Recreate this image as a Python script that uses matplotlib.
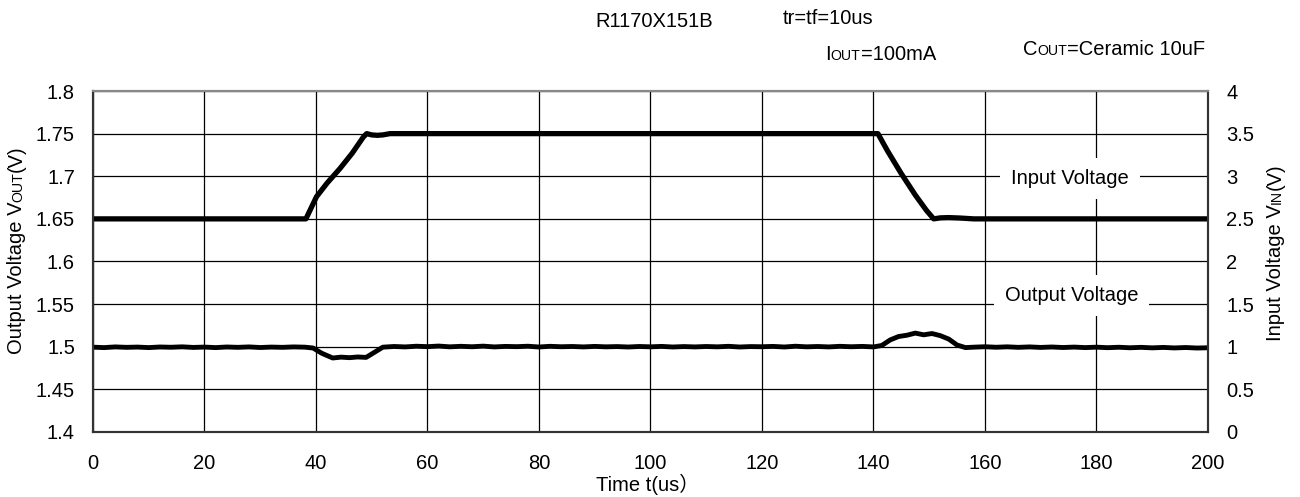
import matplotlib
matplotlib.use("Agg")
import matplotlib.pyplot as plt
from matplotlib.transforms import IdentityTransform

plt.rcParams['font.family'] = ['Liberation Sans', 'Noto Sans CJK JP', 'DejaVu Sans']

# input voltage VIN (right axis), time in us
t_in = [0, 10, 20, 30, 38.2, 40.1, 42, 44.3, 46.5, 48.5, 49.1, 50, 51, 52, 53.3,
        70, 90, 110, 130, 140.8, 142.5, 145, 147.5, 149.5, 150.8, 152, 153.5, 155.5,
        158, 170, 185, 200]
v_in = [2.5, 2.5, 2.5, 2.5, 2.5, 2.76, 2.92, 3.09, 3.27, 3.46, 3.5, 3.485, 3.48, 3.485, 3.5,
        3.5, 3.5, 3.5, 3.5, 3.5, 3.3, 3.03, 2.78, 2.6, 2.5, 2.512, 2.515, 2.51,
        2.5, 2.5, 2.5, 2.5]

# output voltage VOUT (left axis)
t_out = [0, 2, 4, 6, 8, 10, 12, 14, 16, 18, 20, 22, 24, 26, 28, 30, 32, 34, 36, 38,
         39.5, 41, 43, 44.5, 46, 47.5, 49, 50.5, 52, 54, 56, 58, 60, 62, 64, 66, 68, 70,
         72, 74, 76, 78, 80, 82, 84, 86, 88, 90, 92, 94, 96, 98, 100, 102, 104, 106, 108,
         110, 112, 114, 116, 118, 120, 122, 124, 126, 128, 130, 132, 134, 136, 138, 140,
         141.5, 143, 144.5, 146, 147.5, 149, 150.5, 152, 153.5, 155, 156.5, 158, 160,
         162, 164, 166, 168, 170, 172, 174, 176, 178, 180, 182, 184, 186, 188, 190, 192,
         194, 196, 198, 200]
v_out = [1.4995, 1.4990, 1.4998, 1.4993, 1.4996, 1.4990, 1.4997, 1.4994, 1.4999, 1.4992,
         1.4996, 1.4990, 1.4997, 1.4993, 1.4998, 1.4991, 1.4996, 1.4993, 1.4998, 1.4995,
         1.4985, 1.4925, 1.4868, 1.4878, 1.4872, 1.4880, 1.4875, 1.4935, 1.4995, 1.5003,
         1.4998, 1.5006, 1.5001, 1.5008, 1.4999, 1.5005, 1.5000, 1.5007, 1.4998, 1.5004,
         1.5001, 1.5006, 1.4997, 1.5005, 1.5000, 1.5003, 1.4998, 1.5004, 1.4999, 1.5002,
         1.4997, 1.5003, 1.4999, 1.5004, 1.4997, 1.5002, 1.4998, 1.5003, 1.4999, 1.5005,
         1.4997, 1.5002, 1.5000, 1.5004, 1.4997, 1.5006, 1.4999, 1.5003, 1.4998, 1.5005,
         1.5000, 1.5004, 1.4998, 1.5015, 1.5080, 1.5120, 1.5135, 1.5160, 1.5140, 1.5155,
         1.5130, 1.5090, 1.5020, 1.4990, 1.4995, 1.5000, 1.4994, 1.4999, 1.4993, 1.4998,
         1.4992, 1.4997, 1.4991, 1.4996, 1.4990, 1.4995, 1.4989, 1.4994, 1.4988, 1.4993,
         1.4987, 1.4992, 1.4986, 1.4991, 1.4985, 1.4988]

fs = 14.5

fig = plt.figure(figsize=(13, 4.97), dpi=100)
ax = fig.add_axes([0.0715, 0.1308, 0.8577, 0.6861])
ax2 = ax.twinx()

ax.plot(t_out, v_out, color='black', lw=3.5, solid_capstyle='round', solid_joinstyle='round')
ax2.plot(t_in, v_in, color='black', lw=3.8, solid_capstyle='round', solid_joinstyle='round')

ax.set_xlim(0, 200)
ax.set_ylim(1.4, 1.8)
ax2.set_ylim(0, 4)
ax.set_xticks(range(0, 201, 20))
ax.set_yticks([1.4, 1.45, 1.5, 1.55, 1.6, 1.65, 1.7, 1.75, 1.8])
ax.set_yticklabels(['1.4', '1.45', '1.5', '1.55', '1.6', '1.65', '1.7', '1.75', '1.8'])
ax2.set_yticks([0, 0.5, 1, 1.5, 2, 2.5, 3, 3.5, 4])
ax2.set_yticklabels(['0', '0.5', '1', '1.5', '2', '2.5', '3', '3.5', '4'])
ax.grid(True, color='black', lw=0.9)
ax.tick_params(axis='both', length=0, labelsize=fs)
ax.tick_params(axis='x', pad=16)
ax.tick_params(axis='y', pad=13)
ax2.tick_params(axis='y', length=0, labelsize=fs, pad=13)
for a in (ax, ax2):
    for s in a.spines.values():
        s.set_color('#333333')
        s.set_linewidth(1.5)
    a.spines['top'].set_color('#888888')

box = dict(boxstyle='square,pad=0.55', fc='white', ec='none')
ax2.text(175.3, 2.97, 'Input Voltage', fontsize=fs, ha='center', va='center', bbox=box, zorder=5)
ax2.text(175.5, 1.6, 'Output Voltage', fontsize=fs, ha='center', va='center', bbox=box, zorder=5)

renderer = fig.canvas.get_renderer()


def mixed(x, y, parts, rot=0, center=False):
    # x, y: baseline start in figure pixels (origin bottom-left)
    arts = []
    sizes = []
    for s, k in parts:
        t = fig.text(0, 0, s, fontsize=fs * k, rotation=rot, rotation_mode='anchor',
                     ha='left', va='baseline', transform=IdentityTransform())
        bb = t.get_window_extent(renderer)
        arts.append(t)
        sizes.append(bb.height if rot else bb.width)
    total = sum(sizes)
    pos = (y if rot else x) - (total / 2 if center else 0)
    for t, w in zip(arts, sizes):
        if rot:
            t.set_position((x, pos))
        else:
            t.set_position((pos, y))
        pos += w


mixed(595, 470, [('R1170X151B', 1)])
mixed(783, 473, [('tr=tf=10us', 1)])
mixed(825, 437, [('I', 1), ('OUT', 0.7), ('=100mA', 1)])
mixed(1023, 442, [('C', 1), ('OUT', 0.7), ('=Ceramic 10uF', 1)])
mixed(22, 247, [('Output Voltage V', 1), ('OUT', 0.7), ('(V)', 1)], rot=90, center=True)
mixed(1281, 245, [('Input Voltage V', 1), ('IN', 0.7), ('(V)', 1)], rot=90, center=True)
fig.text(648, 6, 'Time t(us）', fontsize=fs, ha='center', va='baseline', transform=IdentityTransform())

fig.savefig('out.png', dpi=100)
